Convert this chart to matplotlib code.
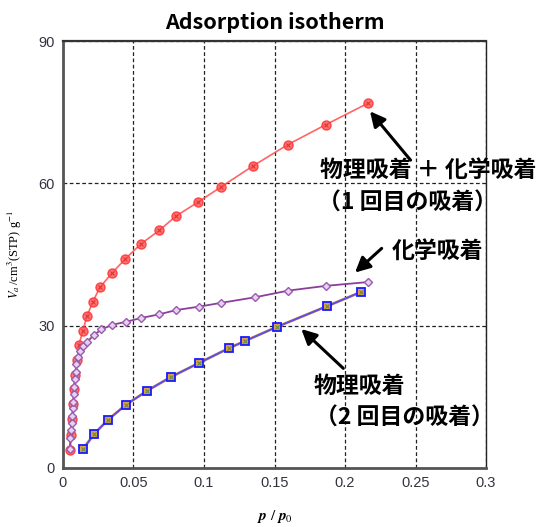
import matplotlib
matplotlib.use("Agg")
import matplotlib.pyplot as plt

# ---------------------------------------------------------------------------
# Data: p/p0 vs adsorbed volume
# ---------------------------------------------------------------------------
red_p = [0.0052, 0.0059, 0.0066, 0.0073, 0.0078, 0.0085, 0.0101, 0.0113,
         0.0140, 0.0170, 0.0211, 0.0262, 0.0348, 0.0442, 0.0551, 0.0683,
         0.0801, 0.0960, 0.1118, 0.1348, 0.1596, 0.1865, 0.2163]
red_v = [3.8, 7.0, 10.3, 13.5, 16.6, 19.6, 22.8, 25.9,
         28.9, 32.0, 35.0, 38.1, 41.1, 44.1, 47.2, 50.1,
         53.1, 56.1, 59.2, 63.7, 68.2, 72.4, 76.9]

purple_p = [0.0048, 0.0053, 0.0058, 0.0062, 0.0066, 0.0070, 0.0073, 0.0077,
            0.0080, 0.0084, 0.0089, 0.0095, 0.0105, 0.0120, 0.0142, 0.0172,
            0.0218, 0.0272, 0.0350, 0.0445, 0.0551, 0.0683, 0.0804, 0.0962,
            0.1118, 0.1364, 0.1599, 0.1865, 0.2163]
purple_v = [4.0, 6.3, 8.0, 9.5, 11.0, 12.6, 14.0, 15.6,
            17.1, 18.7, 20.3, 21.9, 23.3, 24.7, 25.7, 26.6,
            28.0, 29.2, 30.2, 30.8, 31.6, 32.4, 33.3, 34.0,
            34.8, 36.0, 37.4, 38.4, 39.2]

blue_p = [0.0140, 0.0222, 0.0317, 0.0445, 0.0598, 0.0766, 0.0962,
          0.1180, 0.1293, 0.1521, 0.1872, 0.2113]
blue_v = [3.9, 7.2, 10.1, 13.3, 16.3, 19.2, 22.1,
          25.3, 26.8, 29.8, 34.1, 37.1]

x_ticks = [0, 0.05, 0.1, 0.15, 0.2, 0.25, 0.3]
x_ticklabels = ["0", "0.05", "0.1", "0.15", "0.2", "0.25", "0.3"]
y_ticks = [0, 30, 60, 90]

# annotations: text, text centre (p, V), arrow tail, arrow tip
notes = [
    ("物理吸着 ＋ 化学吸着", (0.2591, 62.8), (0.2465, 64.9), (0.2177, 75.2)),
    ("（1 回目の吸着）",      (0.2443, 55.9), None, None),
    ("化学吸着",              (0.2655, 45.6), (0.2260, 46.3), (0.2071, 41.2)),
    ("物理吸着",              (0.2104, 17.1), (0.1988, 21.0), (0.1690, 29.3)),
    ("（2 回目の吸着）",      (0.2418, 10.5), None, None),
]

# ---------------------------------------------------------------------------
plt.rcParams["font.family"] = ["Noto Sans CJK JP", "DejaVu Sans"]
plt.rcParams["mathtext.fontset"] = "stix"

fig = plt.figure(figsize=(5.44, 5.27), dpi=100)
ax = fig.add_axes([0.1158, 0.112, 0.7776, 0.810])

ax.plot(red_p, red_v, color="#ff4a4a", lw=1.2, marker="o", ms=6.5,
        mfc="#ff5c5c", mec="#ff3030", mew=1.0, alpha=0.85, zorder=4)
ax.plot(red_p, red_v, ls="none", marker="x", ms=3.5, mec="#d02020",
        mew=0.8, alpha=0.7, zorder=5)

ax.plot(purple_p, purple_v, color="#8a3f9a", lw=1.3, marker="D", ms=4.5,
        mfc="#e6d2ee", mec="#9a5aae", mew=1.0, zorder=6)

ax.plot(blue_p, blue_v, color="#e8a040", lw=2.0, zorder=3)
ax.plot(blue_p, blue_v, color="#5b4de6", lw=1.4, marker="s", ms=6,
        mfc="#d9a24a", mec="#1a1aff", mew=1.3, zorder=4)
ax.plot(blue_p, blue_v, ls="none", marker="x", ms=2.5, mec="#6a8a40",
        mew=0.8, zorder=5)

ax.set_xlim(0, 0.3)
ax.set_ylim(0, 90)
ax.set_xticks(x_ticks)
ax.set_xticklabels(x_ticklabels)
ax.set_yticks(y_ticks)
ax.tick_params(length=0, labelsize=10.5, labelcolor="#333340", pad=6)
for lbl in ax.get_xticklabels() + ax.get_yticklabels():
    lbl.set_family("Liberation Sans")

ax.grid(True, color="#222222", ls=(0, (3, 2)), lw=0.9)
for side in ["left", "bottom"]:
    ax.spines[side].set_color("#555555")
    ax.spines[side].set_linewidth(2.0)
ax.spines["top"].set_color("#333333")
ax.spines["top"].set_linewidth(1.6)
ax.spines["right"].set_color("#222222")
ax.spines["right"].set_linewidth(1.0)

ax.set_title("Adsorption isotherm", fontsize=15.5, fontweight="bold", pad=9)
ax.set_ylabel(r"$V_a\,$/cm$^3$(STP) g$^{-1}$", fontsize=9,
              family="Liberation Serif", labelpad=10)
ax.set_xlabel(r"$\mathbfit{p}\ /\ \mathbfit{p}_0$", fontsize=11, labelpad=13)

for text, (tx, ty), tail, tip in notes:
    ax.text(tx, ty, text, ha="center", va="center", fontsize=16.5,
            fontweight="bold", color="black", clip_on=False, zorder=10)
    if tail is not None:
        ax.annotate("", xy=tip, xytext=tail, annotation_clip=False,
                    arrowprops=dict(arrowstyle="-|>,head_length=0.9,head_width=0.45",
                                    color="black", lw=2.2, shrinkA=0, shrinkB=0),
                    zorder=10)

fig.savefig("out.png", dpi=100, facecolor="white")
